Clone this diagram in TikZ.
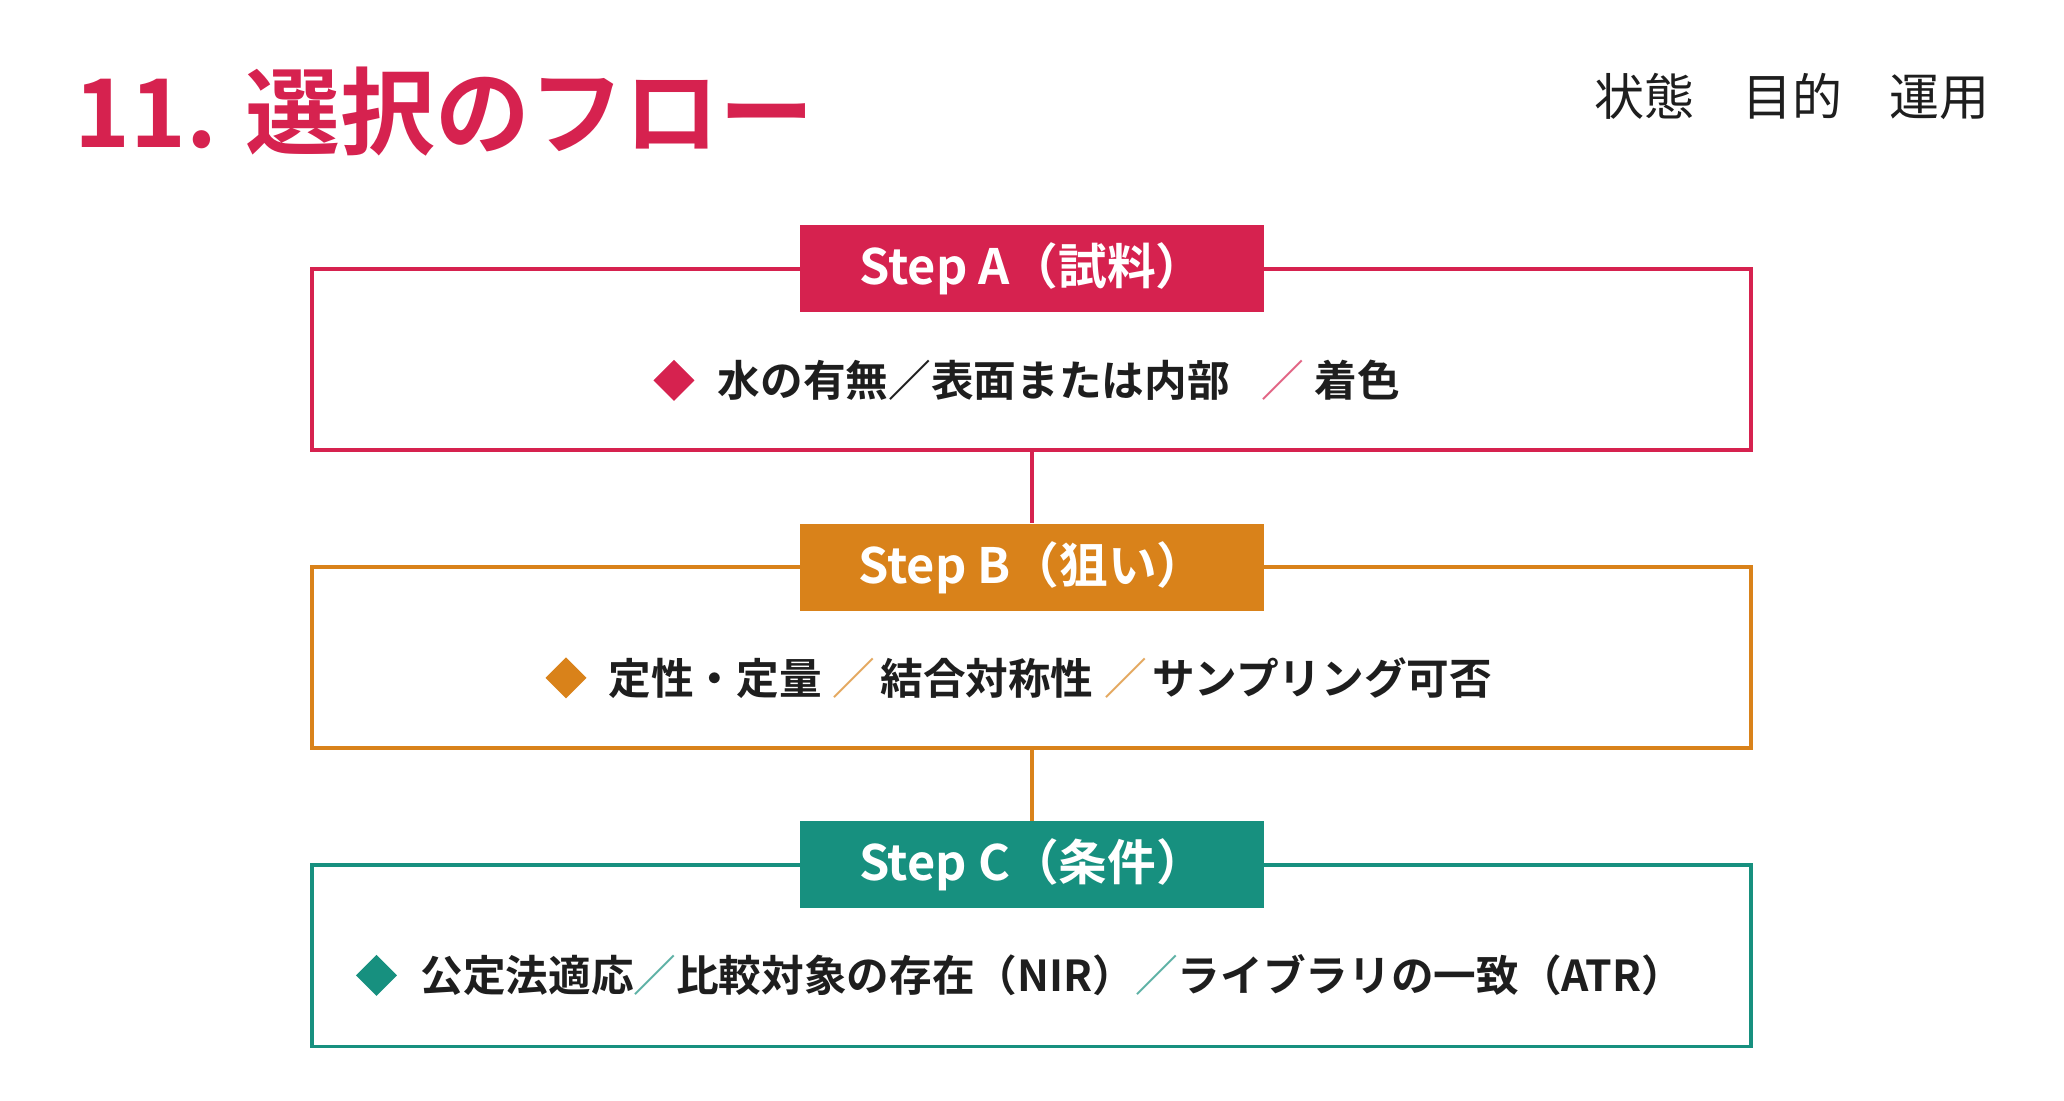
\documentclass[tikz,border=0pt]{standalone}
\usepackage{fontspec}
\setmainfont{Noto Sans CJK JP}
\newfontfamily\cjkb{Noto Sans CJK JP Bold}
\newfontfamily\cjkl{Noto Sans CJK JP}
\definecolor{cA}{HTML}{D6224F}
\definecolor{cB}{HTML}{D9821A}
\definecolor{cC}{HTML}{17907F}
\definecolor{ink}{HTML}{1E1E1E}
\begin{document}
\begin{tikzpicture}[x=0.5pt,y=-0.5pt,
  box/.style={draw=#1,line width=1.5pt},
  head/.style={fill=#1,text=white,font=\cjkb\fontsize{18.5}{22}\selectfont,minimum width=176pt,minimum height=33pt,inner sep=0pt},
  body/.style={text=ink,font=\cjkb\fontsize{16.2}{19}\selectfont,inner sep=0pt},
  dia/.style={fill=#1,minimum size=11pt,rotate=45,inner sep=0pt,shape=rectangle},
  link/.style={draw=#1,line width=1.5pt}]
\useasboundingbox (0,0) rectangle (1568,836);
\fill[white] (0,0) rectangle (1568,836);
\node[anchor=west,text=cA,font=\cjkb\fontsize{36}{40}\selectfont,inner sep=0pt] (title) at (56,85) {11. 選択のフロー};
\node[anchor=east,text=ink,font=\cjkl\fontsize{19}{22}\selectfont,inner sep=0pt] (tags) at (1512,73) {状態\hspace{18pt}目的\hspace{18pt}運用};
% boxes
\draw[box=cA] (237,204) rectangle (1330,342);
\draw[box=cB] (237,431) rectangle (1330,568);
\draw[box=cC] (237,657) rectangle (1330,795);
\node[head=cA] (hA) at (784,204) {Step A（試料）};
\node[head=cB] (hB) at (784,431) {Step B（狙い）};
\node[head=cC] (hC) at (784,657) {Step C（条件）};
\coordinate (bA) at (784,342); \coordinate (bB) at (784,568);
\draw[link=cA] (bA) -- (hB.north);
\draw[link=cB] (bB) -- (hC.north);
% bodies
\node[dia=cA] (dA) at (512,289) {};
\node[body,anchor=west] (tA) at (545,289) {水の有無／表面または内部\hspace{12pt}{\color{cA!70}／}\hspace{4pt}着色};
\node[dia=cB] (dB) at (430,515) {};
\node[body,anchor=west] (tB) at (462,515) {定性・定量\hspace{4pt}{\color{cB!70}／}\hspace{2pt}結合対称性\hspace{4pt}{\color{cB!70}／}\hspace{2pt}サンプリング可否};
\node[dia=cC] (dC) at (286,741) {};
\node[body,anchor=west] (tC) at (319,741) {公定法適応{\color{cC!70}／}比較対象の存在（NIR）{\color{cC!70}／}ライブラリの一致（ATR）};
\end{tikzpicture}
\end{document}
